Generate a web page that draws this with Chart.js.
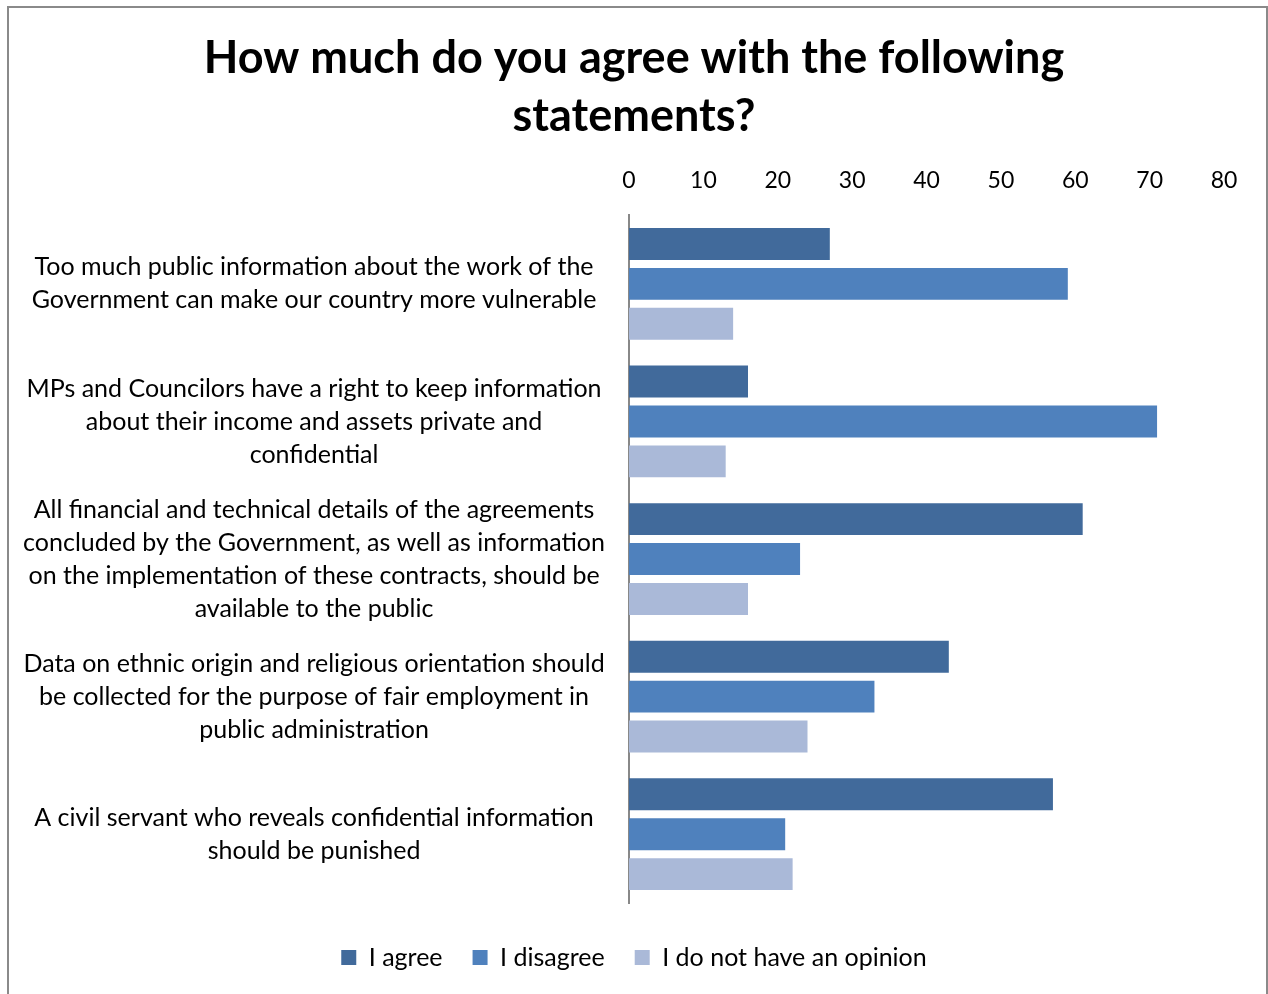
<!DOCTYPE html>
<html>
<head>
<meta charset="utf-8">
<script src="https://cdn.jsdelivr.net/npm/chart.js@4/dist/chart.umd.min.js"></script>
<style>
    html, body { margin: 0; padding: 0; background: #fff; overflow: hidden; }
    #frame {
        position: absolute; left: 7px; top: 6px;
        width: 1257px; height: 1000px;
        border: 2px solid #8a8a8a;
    }
    #wrap { position: absolute; left: 0; top: 0; width: 1268px; height: 994px; }
</style>
</head>
<body>
<div id="frame"></div>
<div id="wrap"><canvas id="chart-statements"></canvas></div>
<script>
const statements = [
    ["Too much public information about the work of the", "Government can make our country more vulnerable"],
    ["MPs and Councilors have a right to keep information", "about their income and assets private and", "confidential"],
    ["All financial and technical details of the agreements", "concluded by the Government, as well as information", "on the implementation of these contracts, should be", "available to the public"],
    ["Data on ethnic origin and religious orientation should", "be collected for the purpose of fair employment in", "public administration"],
    ["A civil servant who reveals confidential information", "should be punished"],
];
const agree = [27, 16, 61, 43, 57];
const disagree = [59, 71, 23, 33, 21];
const noOpinion = [14, 13, 16, 24, 22];

const COLORS = {
    agree: "#416A9B",
    disagree: "#4F81BD",
    noOpinion: "#AAB9D8",
};

const FONT = "Lato, 'Open Sans', sans-serif";
Chart.defaults.color = "#000";
Chart.defaults.font.family = FONT;

const chartElem = document.getElementById("chart-statements");

// invisible scale options used only to reserve space around the plot
const spacer = (position, axis, size) => ({
    type: "linear",
    position,
    axis,
    display: true,
    ticks: { display: false },
    grid: { display: false, drawTicks: false },
    border: { display: false },
    afterFit(scale) {
        if (axis === "x") scale.height = size;
        else scale.width = size;
    },
});

const series = (label, data, color) => ({
    label,
    data,
    backgroundColor: color,
    xAxisID: "x",
    yAxisID: "y",
});

new Chart(chartElem, {
    type: "bar",
    data: {
        labels: statements,
        datasets: [
            series("I agree", agree, COLORS.agree),
            series("I disagree", disagree, COLORS.disagree),
            series("I do not have an opinion", noOpinion, COLORS.noOpinion),
        ],
    },
    options: {
        indexAxis: "y",
        responsive: true,
        maintainAspectRatio: false,
        animation: false,
        categoryPercentage: 0.87,
        barPercentage: 0.8,
        layout: { padding: { left: 0, right: 0, top: 0, bottom: 14 } },
        scales: {
            x: {
                position: "top",
                min: 0,
                max: 80,
                ticks: { stepSize: 10, padding: 21, font: { size: 23 } },
                grid: { display: false, drawTicks: false },
                border: { display: false },
                afterFit(scale) { scale.height = 70; },
            },
            y: {
                type: "category",
                ticks: {
                    crossAlign: "center",
                    padding: 24,
                    font: { size: 25, lineHeight: 1.32 },
                },
                grid: { display: false, drawTicks: false },
                border: { color: "#888", width: 2 },
                afterFit(scale) { scale.width = 629; },
            },
            gapBottom: spacer("bottom", "x", 12),
            gapRight: spacer("right", "y", 44),
        },
        plugins: {
            title: {
                display: true,
                text: ["How much do you agree with the following", "statements?"],
                font: { size: 45, weight: "bold", lineHeight: 1.29 },
                padding: { top: 29, bottom: 0 },
            },
            legend: {
                position: "bottom",
                labels: {
                    boxWidth: 15,
                    boxHeight: 15,
                    padding: 30,
                    font: { size: 25 },
                },
            },
            tooltip: { enabled: false },
        },
    },
});
</script>
</body>
</html>
